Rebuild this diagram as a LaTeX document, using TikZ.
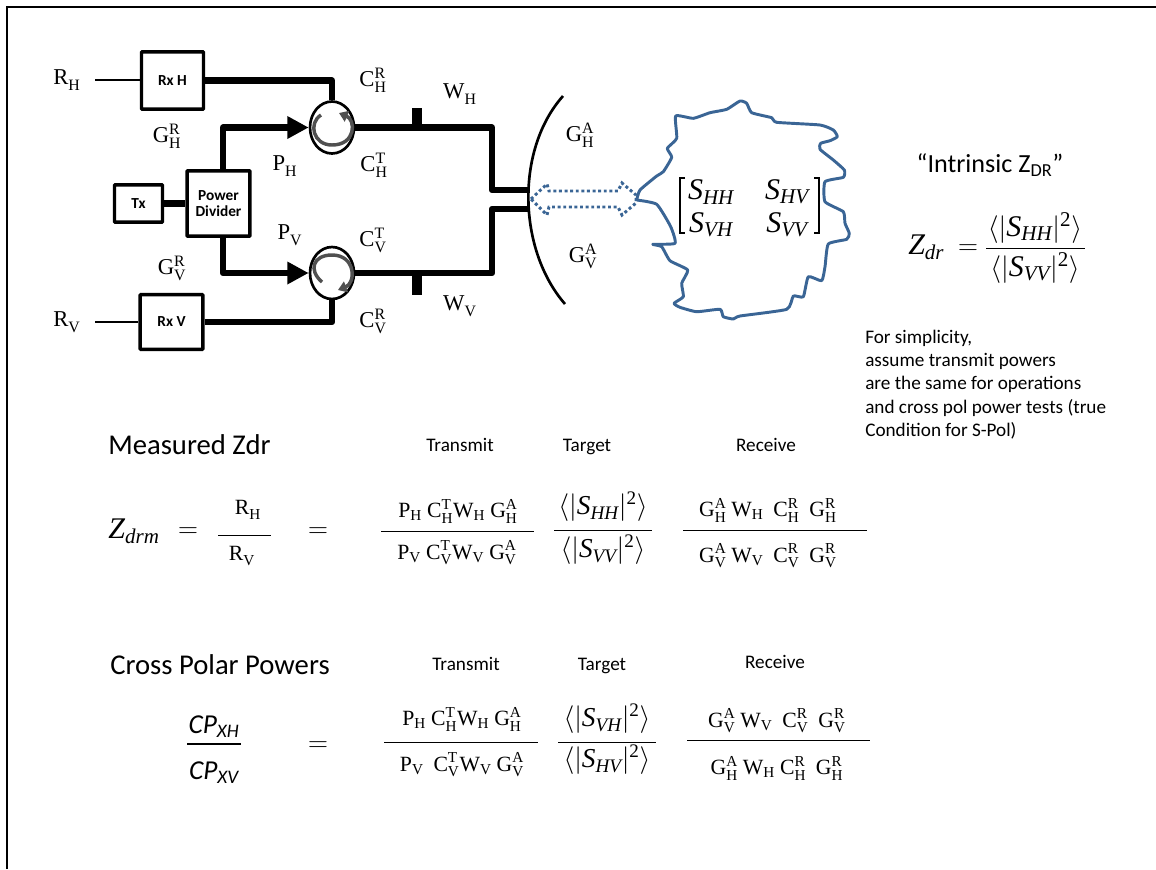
\documentclass[tikz,border=0pt]{standalone}
\usepackage{amsmath}
\usepackage{fontspec}
\setmainfont{Carlito}
\setmathrm{Liberation Serif}
\usetikzlibrary{arrows.meta,shapes.geometric}
\definecolor{blobblue}{HTML}{3A6595}
\definecolor{arcgrey}{HTML}{505050}
\newcommand\Lb[3]{$\mathrm{#1}_{\mathrm{#2}}^{\mathrm{#3}}$}
\newcommand\Ss[1]{\mathit{S}_{\mathit{#1}}}
\newcommand\Avg[1]{$\langle|\Ss{#1}|^{\mathrm{2}}\rangle$}
\newcommand\Fs[1]{\fontsize{#1}{#1}\selectfont}
\tikzset{
 frameline/.style={line width=1.1pt,black},
 blockbox/.style={draw,line width=2.6pt,rounded corners=0.5pt,inner sep=0pt,font=\Fs{11.5}\bfseries,align=center},
 guide/.style={line width=4.8pt,line join=round},
 thinlead/.style={line width=1.4pt},
 feed/.style={guide,-{Triangle[length=16pt,width=16pt]}},
 circ/.style={draw,ellipse,line width=2pt,inner sep=0pt,minimum width=33pt,minimum height=39pt},
 turn/.style={draw=arcgrey,line width=2.6pt,-{Triangle[length=6.5pt,width=8.5pt]}},
 stub/.style={line width=8pt},
 lab/.style={inner sep=0pt,font=\Fs{17}},
 eq/.style={inner sep=0pt,font=\Fs{16.3}},
 avg/.style={inner sep=0pt,font=\Fs{20.5}},
 big/.style={inner sep=0pt,font=\Fs{22.5}},
 head/.style={inner sep=0pt,font=\Fs{21.5},anchor=west},
 col/.style={inner sep=0pt,font=\Fs{14.4},anchor=base},
 note/.style={inner sep=0pt,font=\Fs{14.4},anchor=base west},
 barline/.style={line width=0.75pt},
}
\begin{document}
\begin{tikzpicture}[x=0.75pt,y=-0.75pt]
\useasboundingbox (0,0) rectangle (1156,869);
% frame
\coordinate (fa) at (7,869); \coordinate (fb) at (7,7); \coordinate (fc) at (1156,7);
\draw[frameline] (fa) -- (fb) -- (fc);
% blocks
\node[blockbox,minimum width=46.5pt,minimum height=43pt] (rxh) at (172.5,80.5) {Rx H};
\node[blockbox,minimum width=47pt,minimum height=41pt] (rxv) at (171.5,322) {Rx V};
\node[blockbox,minimum width=36pt,minimum height=28pt] (tx) at (138.5,203.5) {Tx};
\node[blockbox,minimum width=47pt,minimum height=49pt] (pd) at (218.5,203.5) {Power\\Divider};
\node[circ] (circh) at (332,127.5) {};
\node[circ] (circv) at (332,273) {};
% leads
\coordinate (rhl) at (95,80); \coordinate (rvl) at (95,322);
\draw[thinlead] (rhl) -- (rxh.west |- rhl);
\draw[thinlead] (rvl) -- (rxv.west |- rvl);
% guides
\draw[guide] (rxh.east) -| (circh.north);
\draw[guide] (rxv.east) -| (circv.south);
\draw[guide] (tx.east) -- (pd.west);
\coordinate (pdt) at (223,171); \coordinate (pdb) at (223,236);
\draw[feed] (pdt) |- (circh.west);
\draw[feed] (pdb) |- (circv.west);
\coordinate (ah) at (530,190); \coordinate (av) at (530,209);
\coordinate (bh) at (492,127.5); \coordinate (bhh) at (492,190);
\coordinate (bv) at (492,273); \coordinate (bvv) at (492,209);
\draw[guide] (circh.east) -- (bh) -- (bhh) -- (ah);
\draw[guide] (circv.east) -- (bv) -- (bvv) -- (av);
\coordinate (sa) at (417,108); \coordinate (sb) at (417,127);
\coordinate (sc) at (417,273); \coordinate (sd) at (417,295);
\draw[stub] (sa) -- (sb);
\draw[stub] (sc) -- (sd);
% circulator arrows
\draw[turn] (321,115) .. controls (308,123) and (313,145) .. (332,145) .. controls (356,145) and (356,120) .. (339,113);
\draw[turn] (322,282) .. controls (308,270) and (313,255) .. (332,255) .. controls (356,255) and (356,283) .. (338,290);
% antenna
\draw[line width=2pt] (563,96) .. controls (515,150) and (518,250) .. (565,304);
% dotted arrow
\draw[blobblue,line width=2.2pt,dotted] (531,199) -- (547,184) -- (549,191) -- (618,191) -- (622,183) -- (636,195) -- (636,203) -- (622,215) -- (618,207) -- (549,207) -- (547,215) -- cycle;
% blob
\draw[blobblue,line width=2.2pt,line join=round] plot[smooth,tension=0.3] coordinates {
(636.7,200) (640,190) (656.7,176) (663.3,171.7) (671.7,157.3) (667.3,148.3) (676.7,138.3) (675.7,116) (693.3,118.3) (710,112.7) (726.7,109.3) (740,101) (746.7,103.3) (751.7,112.7) (771.7,117.7) (776.7,122.3) (820,125) (833.3,130) (837.3,136.7) (830,140.7) (820.7,143.3) (820,149.3) (833.3,160) (844.3,170) (843.3,177.3) (825,181.7) (825,201.7) (843.3,211.7) (845,223.3) (849.3,233.3) (846.7,239.3) (828.3,244) (825,266.7) (821.7,280.7) (808.3,276.7) (803.3,296.7) (793.3,296) (786.7,309.3) (740,316) (733.3,319) (723.3,316.7) (720,309.3) (696.7,311.7) (680,307.3) (674,303.3) (683.3,296.7) (681.7,283.3) (687.7,270) (670,260.7) (661.7,246.7) (652.7,244.3) (675,243.3) (670.7,226.7) (656.7,204.3) (636.7,200)};
% matrix
\node[big] (s11) at (711,192) {$\Ss{HH}$};
\node[big] (s12) at (787,192) {$\Ss{HV}$};
\node[big] (s21) at (711,225) {$\Ss{VH}$};
\node[big] (s22) at (787,225) {$\Ss{VV}$};
\draw[line width=0.8pt] (685,178) -- (680,178) -- (680,233) -- (685,233);
\draw[line width=0.8pt] (814,178) -- (819,178) -- (819,233) -- (814,233);
% labels of diagram
\node[lab] (l1) at (67,80) {\Lb{R}{H}{}};
\node[lab] (l2) at (67,322) {\Lb{R}{V}{}};
\node[lab] (l3) at (373,80) {\Lb{C}{H}{R}};
\node[lab] (l4) at (460,94) {\Lb{W}{H}{}};
\node[lab] (l5) at (167,136) {\Lb{G}{H}{R}};
\node[lab] (l6) at (285,166) {\Lb{P}{H}{}};
\node[lab] (l7) at (374,165) {\Lb{C}{H}{T}};
\node[lab] (l8) at (290,235) {\Lb{P}{V}{}};
\node[lab] (l9) at (373,240) {\Lb{C}{V}{T}};
\node[lab] (l10) at (172,268) {\Lb{G}{V}{R}};
\node[lab] (l11) at (460,306) {\Lb{W}{V}{}};
\node[lab] (l12) at (373,321) {\Lb{C}{V}{R}};
\node[lab] (l13) at (580,135) {\Lb{G}{H}{A}};
\node[lab] (l14) at (583,256) {\Lb{G}{V}{A}};
% intrinsic
\node[inner sep=0pt,font=\Fs{19.6}] (intr) at (990,165) {“Intrinsic Z$_{\text{DR}}$”};
\node[big,anchor=west] (zdr) at (908,247) {$\mathit{Z}_{\mathit{dr}}$};
\node[big] (zeq) at (968,250) {$=$};
\node[big] (zn) at (1035,228) {\Avg{HH}};
\node[big] (zd) at (1035,268) {\Avg{VV}};
\draw[barline] (986,248) -- (1085,248);
% note
\node[note] (n1) at (865,343) {For simplicity,};
\node[note] (n2) at (865,366) {assume transmit powers};
\node[note] (n3) at (865,389) {are the same for operations};
\node[note] (n4) at (865,413) {and cross pol power tests (true};
\node[note] (n5) at (865,436) {Condition for S-Pol)};
% measured
\node[head] (h1) at (108,445) {Measured Zdr};
\node[col] (c1) at (460,451) {Transmit};
\node[col] (c2) at (587,451) {Target};
\node[col] (c3) at (766,451) {Receive};
\node[big] (zm) at (134,531) {$\mathit{Z}_{\mathit{drm}}$};
\node[big] (e1) at (188,533) {$=$};
\node[eq] (rn) at (248,510) {\Lb{R}{H}{}};
\node[eq] (rd) at (242,556) {\Lb{R}{V}{}};
\draw[barline] (218,535) -- (271,535);
\node[big] (e2) at (318,533) {$=$};
\node[eq] (a1) at (458,511) {$\mathrm{P_H\ C_H^T W_H\ G_H^A}$};
\node[eq] (a2) at (457,553) {$\mathrm{P_V\ C_V^T W_V\ G_V^A}$};
\draw[barline] (381,531) -- (534,531);
\node[avg] (a3) at (603,507) {\Avg{HH}};
\node[avg] (a4) at (603,550) {\Avg{VV}};
\draw[barline] (554,530) -- (652,530);
\node[eq] (a5) at (768,510) {$\mathrm{G_H^A\ W_H\ \ C_H^R\ \ G_H^R}$};
\node[eq] (a6) at (768,556) {$\mathrm{G_V^A\ W_V\ \ C_V^R\ \ G_V^R}$};
\draw[barline] (683,530) -- (867,530);
% cross polar
\node[head] (h2) at (110,665) {Cross Polar Powers};
\node[col] (d1) at (466,670) {Transmit};
\node[col] (d2) at (602,670) {Target};
\node[col] (d3) at (775,668) {Receive};
\node[inner sep=0pt,font=\Fs{20.5}\itshape] (cpn) at (214,727) {CP$_{\text{\itshape XH}}$};
\node[inner sep=0pt,font=\Fs{20.5}\itshape] (cpd) at (214,773) {CP$_{\text{\itshape XV}}$};
\draw[line width=1.1pt] (187,744) -- (241,744);
\node[big] (e3) at (318,747) {$=$};
\node[eq] (b1) at (462,719) {$\mathrm{P_H\ C_H^T W_H\ G_H^A}$};
\node[eq] (b2) at (462,765) {$\mathrm{P_V\ \ C_V^T W_V\ G_V^A}$};
\draw[barline] (384,742) -- (538,742);
\node[avg] (b3) at (607,719) {\Avg{VH}};
\node[avg] (b4) at (607,760) {\Avg{HV}};
\draw[barline] (558,742) -- (656,742);
\node[eq] (b5) at (777,721) {$\mathrm{G_V^A\ W_V\ \ C_V^R\ \ G_V^R}$};
\node[eq] (b6) at (777,768) {$\mathrm{G_H^A\ W_H\ C_H^R\ \ G_H^R}$};
\draw[barline] (687,740) -- (870,740);
\end{tikzpicture}
\end{document}
